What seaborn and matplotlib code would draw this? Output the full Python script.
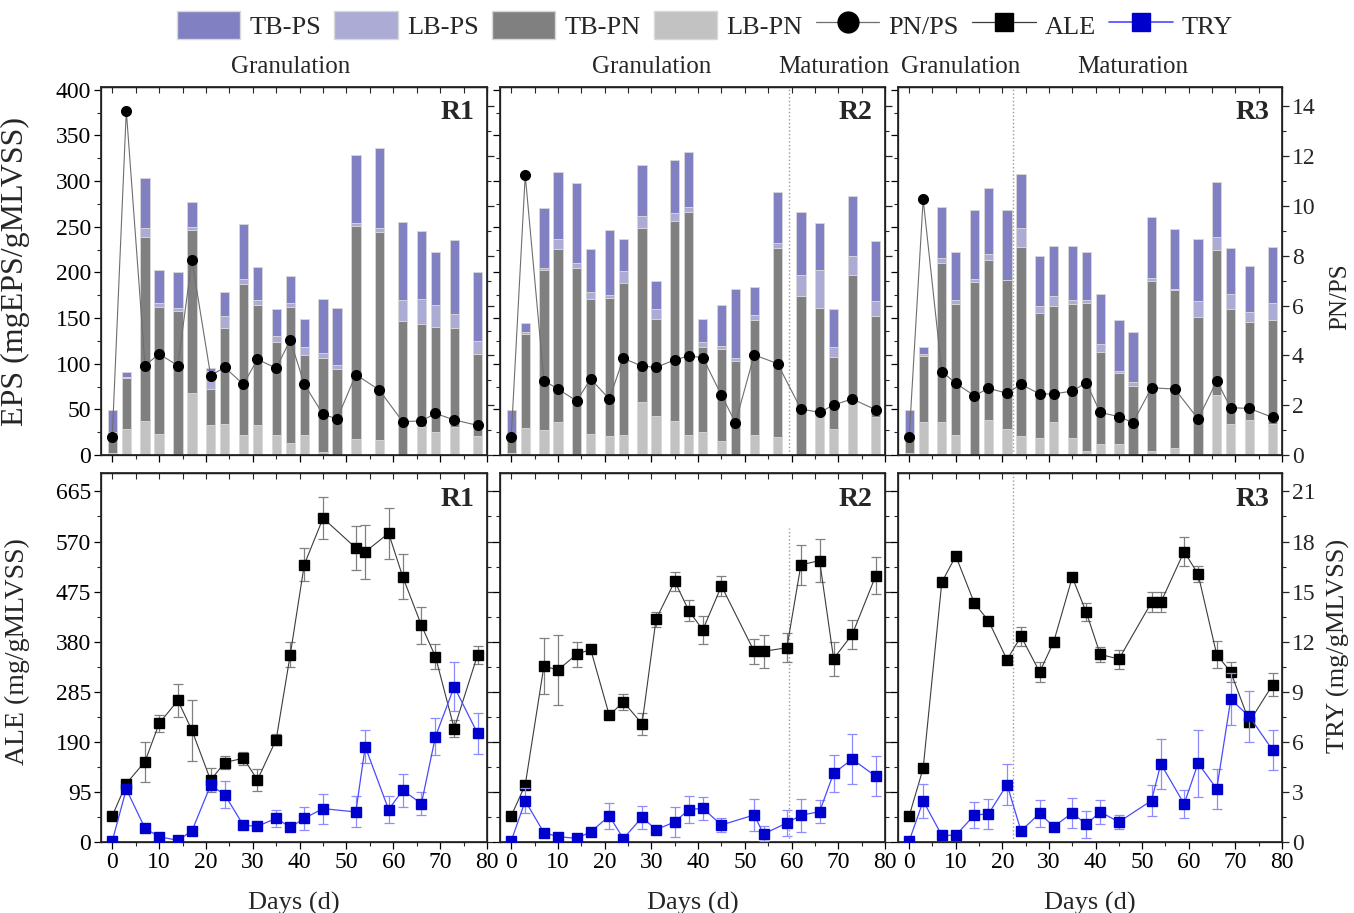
import numpy as np
import pandas as pd
import matplotlib
matplotlib.use("Agg")
import matplotlib.pyplot as plt
import seaborn as sns
from matplotlib.lines import Line2D
from matplotlib.patches import Patch
from matplotlib.ticker import MultipleLocator

# ---------------------------------------------------------------- data
eps_days = [0, 3, 7, 10, 14, 17, 21, 24, 28, 31, 35, 38, 41, 45, 48, 52, 57, 62, 66, 69, 73, 78]
enz_days = [0, 3, 7, 10, 14, 17, 21, 24, 28, 31, 35, 38, 41, 45, 52, 54, 59, 62, 66, 69, 73, 78]

# EPS fractions (mgEPS/gMLVSS)
r1_lb_pn = [2.6, 28.1, 37.3, 22.6, 0, 68.3, 32.9, 33.6, 21.9, 32.5, 21.6, 12.8, 21.9, 3.7, 0, 17.5, 16.4, 0, 31.0, 25.6, 31.0, 21.2]
r1_tb_pn = [23.0, 56.6, 200.9, 140.0, 157.8, 178.3, 39.4, 105.9, 165.5, 131.9, 102.6, 149.0, 87.7, 102.2, 94.6, 233.8, 227.6, 146.8, 112.2, 115.0, 107.8, 89.5]
r1_lb_ps = [0, 1.0, 10.2, 3.6, 2.9, 2.9, 20.1, 12.8, 5.5, 5.5, 6.2, 5.1, 8.4, 5.5, 4.0, 2.6, 5.1, 23.1, 28.1, 24.1, 15.7, 14.2]
r1_tb_ps = [23.7, 5.3, 55.2, 36.2, 40.2, 28.1, 2.9, 26.3, 59.9, 36.1, 29.2, 29.6, 30.7, 59.9, 62.9, 74.1, 87.3, 85.1, 74.5, 58.1, 81.1, 76.0]
r1_pn_ps = [0.71, 13.83, 3.59, 4.06, 3.59, 7.84, 3.19, 3.52, 2.84, 3.84, 3.49, 4.62, 2.84, 1.63, 1.45, 3.23, 2.61, 1.34, 1.37, 1.67, 1.41, 1.19]

r2_lb_pn = [1.8, 30.0, 27.4, 35.8, 0, 23.0, 21.2, 21.6, 58.4, 42.7, 37.3, 21.6, 25.2, 15.3, 0, 21.9, 20.1, 0, 45.7, 28.1, 58.4, 42.0]
r2_tb_pn = [21.9, 102.6, 175.3, 190.0, 205.3, 148.3, 150.9, 166.9, 190.7, 106.7, 219.5, 244.3, 93.5, 101.2, 103.0, 126.0, 207.1, 174.2, 115.8, 79.7, 138.9, 110.3]
r2_lb_ps = [0, 1.8, 2.6, 10.9, 4.7, 7.0, 3.2, 13.1, 12.1, 10.6, 8.0, 5.2, 5.5, 3.3, 3.7, 5.5, 5.5, 23.1, 41.2, 10.9, 20.1, 16.8]
r2_tb_ps = [25.6, 9.9, 65.0, 73.4, 87.4, 47.8, 71.3, 34.7, 56.6, 30.7, 57.8, 61.0, 24.8, 44.6, 75.2, 30.3, 55.2, 69.0, 51.9, 41.3, 66.1, 65.8]
r2_pn_ps = [0.71, 11.24, 2.99, 2.65, 2.17, 3.05, 2.25, 3.88, 3.57, 3.52, 3.82, 3.98, 3.91, 2.40, 1.30, 4.02, 3.67, 1.85, 1.71, 2.01, 2.25, 1.82]

r3_lb_pn = [1.8, 35.8, 35.8, 21.9, 0, 38.4, 28.9, 20.8, 19.0, 36.5, 19.0, 4.7, 11.7, 11.7, 0, 4.4, 7.3, 0, 65.8, 34.0, 38.4, 34.0]
r3_tb_pn = [21.9, 73.1, 175.0, 143.6, 190.0, 174.6, 162.9, 207.5, 136.3, 127.2, 146.5, 162.2, 100.8, 78.5, 76.0, 186.6, 173.5, 150.9, 158.9, 125.6, 107.7, 113.9]
r3_lb_ps = [0, 1.8, 4.7, 4.4, 2.9, 6.9, 0, 20.8, 8.0, 10.5, 4.4, 3.0, 8.8, 2.2, 4.4, 3.0, 0.8, 17.9, 13.8, 16.5, 10.2, 18.3]
r3_tb_ps = [25.6, 8.0, 56.6, 52.2, 75.6, 72.0, 76.7, 58.9, 54.1, 55.2, 59.5, 52.9, 55.1, 55.5, 54.0, 66.5, 66.1, 67.9, 60.3, 50.4, 51.2, 61.4]
r3_pn_ps = [0.71, 10.27, 3.35, 2.88, 2.38, 2.68, 2.48, 2.84, 2.45, 2.45, 2.57, 2.90, 1.71, 1.54, 1.30, 2.70, 2.65, 1.45, 2.97, 1.90, 1.87, 1.51]

# Enzyme activities: ALE (mg/gMLVSS) and TRY (mg/gMLVSS), mean and SD
r1_ale = [49.4, 110.8, 152.6, 224.8, 268.5, 212.2, 117.2, 150.7, 159.0, 117.8, 194.4, 355.3, 526.3, 614.3, 557.9, 550.3, 585.8, 503.5, 411.0, 351.5, 215.3, 355.3]
r1_ale_sd = [5, 5, 38, 16, 32, 58, 23, 12, 12, 21, 10, 24, 32, 40, 41, 51, 48, 43, 35, 24, 16, 17]
r1_try = [0.06, 3.16, 0.82, 0.32, 0.10, 0.66, 3.40, 2.84, 1.00, 0.94, 1.42, 0.88, 1.42, 2.00, 1.80, 5.72, 1.94, 3.10, 2.30, 6.32, 9.30, 6.50]
r1_try_sd = [0, 0.2, 0.1, 0.1, 0, 0.1, 0.3, 0.8, 0.1, 0.1, 0.5, 0.2, 0.7, 0.9, 0.93, 1.0, 0.8, 0.98, 0.68, 1.1, 1.48, 1.2]

r2_ale = [49.4, 108.3, 333.8, 326.2, 355.9, 365.4, 240.0, 266.0, 224.2, 422.4, 494.6, 438.9, 402.2, 485.7, 361.6, 361.6, 368.6, 525.6, 533.9, 347.7, 393.9, 504.8]
r2_ale_sd = [3, 5, 53, 66, 24, 5, 5, 15, 21, 14, 18, 20, 27, 19, 24, 31, 28, 38, 41, 32, 27, 35]
r2_try = [0.06, 2.46, 0.56, 0.32, 0.22, 0.60, 1.56, 0.20, 1.48, 0.74, 1.20, 1.94, 2.02, 1.02, 1.62, 0.48, 1.14, 1.60, 1.82, 4.12, 4.96, 3.94]
r2_try_sd = [0, 0.75, 0.1, 0.1, 0.1, 0.1, 0.8, 0.1, 0.7, 0.1, 0.9, 0.8, 0.7, 0.4, 0.94, 0.45, 0.78, 0.98, 0.68, 1.12, 1.5, 1.2]

r3_ale = [49.4, 140.0, 492.7, 542.7, 452.8, 419.9, 345.8, 390.1, 322.4, 379.4, 502.2, 435.7, 355.9, 347.0, 454.7, 454.7, 551.0, 507.9, 355.3, 322.4, 228.0, 298.3]
r3_ale_sd = [2, 3, 3, 3, 3, 3, 3, 18, 19, 10, 8, 17, 14, 18, 19, 19, 27, 15, 26, 19, 10, 22]
r3_try = [0.06, 2.46, 0.40, 0.40, 1.62, 1.68, 3.44, 0.66, 1.72, 0.92, 1.74, 1.06, 1.80, 1.20, 2.48, 4.68, 2.28, 4.72, 3.18, 8.54, 7.52, 5.50]
r3_try_sd = [0, 1.0, 0.1, 0.1, 0.8, 0.9, 1.22, 0.1, 0.82, 0.1, 0.9, 0.8, 0.74, 0.4, 0.92, 1.52, 0.82, 2.0, 1.18, 1.56, 1.5, 1.2]

reactor_names = ["R1", "R2", "R3"]
# day at which granulation gives way to maturation (None: whole run is granulation)
phase_switch = [None, 59.5, 22.3]
phase_labels = [[("Granulation", 38)], [("Granulation", 30), ("Maturation", 69)],
                [("Granulation", 11), ("Maturation", 48)]]

legend_labels = ["TB-PS", "LB-PS", "TB-PN", "LB-PN", "PN/PS", "ALE", "TRY"]

# ---------------------------------------------------------------- style
sns.set_theme(style="ticks")
plt.rcParams["font.family"] = ["Liberation Serif", "DejaVu Serif"]
plt.rcParams["mathtext.fontset"] = "stix"

C_TBPS = "#8080c2"
C_LBPS = "#ababd6"
C_TBPN = "#808080"
C_LBPN = "#c2c2c2"
C_TRY = "#0000cc"
C_TRY_LINE = "#4a4aff"
C_TRY_ERR = "#8c8cff"

TICK_FS = 17
LABEL_FS = 19

fig = plt.figure(figsize=(13.54, 9.13), dpi=100)
W, H = 1354.0, 913.0
lefts = [101, 500, 898]
widths = [386, 385, 384]
top_row = (87, 455)
bot_row = (473, 842)

eps_sets = [
    (r1_lb_pn, r1_tb_pn, r1_lb_ps, r1_tb_ps, r1_pn_ps),
    (r2_lb_pn, r2_tb_pn, r2_lb_ps, r2_tb_ps, r2_pn_ps),
    (r3_lb_pn, r3_tb_pn, r3_lb_ps, r3_tb_ps, r3_pn_ps),
]
enz_sets = [
    (r1_ale, r1_ale_sd, r1_try, r1_try_sd),
    (r2_ale, r2_ale_sd, r2_try, r2_try_sd),
    (r3_ale, r3_ale_sd, r3_try, r3_try_sd),
]


def make_axes(left, width, row):
    y0, y1 = row
    return fig.add_axes([left / W, 1 - y1 / H, width / W, (y1 - y0) / H])


def style_axes(ax, ymaj, ymin, show_xlabels):
    ax.set_xlim(-2.4, 80)
    ax.xaxis.set_major_locator(MultipleLocator(10))
    ax.xaxis.set_minor_locator(MultipleLocator(5))
    ax.yaxis.set_major_locator(MultipleLocator(ymaj))
    ax.yaxis.set_minor_locator(MultipleLocator(ymin))
    ax.tick_params(axis="both", which="major", direction="out", length=5, width=0.9,
                   labelsize=TICK_FS, colors="black", pad=2)
    ax.tick_params(axis="both", which="minor", direction="out", length=3, width=0.8)
    ax.tick_params(axis="x", labelbottom=show_xlabels)
    for s in ax.spines.values():
        s.set_color("black")
        s.set_linewidth(0.9)
    top = ax.secondary_xaxis("top")
    top.xaxis.set_major_locator(MultipleLocator(10))
    top.xaxis.set_minor_locator(MultipleLocator(5))
    top.tick_params(axis="x", which="both", direction="in", length=4, width=0.8, labeltop=False)
    top.spines["top"].set_linewidth(0.9)


for i in range(3):
    lb_pn, tb_pn, lb_ps, tb_ps, pnps = eps_sets[i]
    ale, ale_sd, tr, tr_sd = enz_sets[i]

    # ---------------- EPS panel
    ax = make_axes(lefts[i], widths[i], top_row)
    df = pd.DataFrame({"day": eps_days, "LB-PN": lb_pn, "TB-PN": tb_pn,
                       "LB-PS": lb_ps, "TB-PS": tb_ps, "PN/PS": pnps})
    bottom = np.zeros(len(df))
    for col, colr in [("LB-PN", C_LBPN), ("TB-PN", C_TBPN), ("LB-PS", C_LBPS), ("TB-PS", C_TBPS)]:
        ax.bar(df["day"], df[col], width=2.0, bottom=bottom, color=colr,
               edgecolor="#d8d8d8", linewidth=0.6, zorder=2)
        bottom = bottom + df[col].to_numpy()
    ax.set_ylim(0, 403)
    style_axes(ax, 50, 25, False)
    if i == 0:
        ax.set_ylabel("EPS (mgEPS/gMLVSS)", fontsize=23)
        ax.yaxis.set_label_coords(-0.183, 0.5)
    else:
        ax.tick_params(axis="y", labelleft=False)

    ax2 = ax.twinx()
    sns.lineplot(data=df, x="day", y="PN/PS", ax=ax2, color="#6e6e6e", linewidth=0.8,
                 marker="o", markersize=7.2, markerfacecolor="black",
                 markeredgecolor="black", zorder=4)
    ax2.set_ylim(0, 14.78)
    ax2.yaxis.set_major_locator(MultipleLocator(2))
    ax2.yaxis.set_minor_locator(MultipleLocator(1))
    ax2.tick_params(axis="y", which="major", direction="out", length=5, width=0.9,
                    labelsize=TICK_FS, pad=2)
    ax2.tick_params(axis="y", which="minor", direction="out", length=3, width=0.8)
    ax2.set_xlabel("")
    if i == 2:
        ax2.set_ylabel("PN/PS", fontsize=LABEL_FS - 1)
        ax2.yaxis.set_label_coords(1.122, 0.43)
    else:
        ax2.set_ylabel("")
        ax2.tick_params(axis="y", labelright=False)

    ax2.text(0.968, 0.93, reactor_names[i], transform=ax2.transAxes, ha="right",
             va="center", fontsize=20, fontweight="bold")
    for txt, d in phase_labels[i]:
        ax.text(d, 1.055, txt, transform=ax.get_xaxis_transform(), ha="center",
                va="center", fontsize=18)
    if phase_switch[i] is not None:
        ax.axvline(phase_switch[i], color="#9a9a9a", linestyle=":", linewidth=1.0, zorder=3)

    # ---------------- enzyme panel
    bx = make_axes(lefts[i], widths[i], bot_row)
    bx.errorbar(enz_days, ale, yerr=ale_sd, color="#3c3c3c", linewidth=0.8,
                marker="s", markersize=6.6, markerfacecolor="black", markeredgecolor="black",
                ecolor="#808080", elinewidth=0.9, capsize=3.5, capthick=0.9, zorder=3)
    bx.set_ylim(0, 700)
    style_axes(bx, 95, 47.5, True)
    bx.set_xlabel("Days (d)", fontsize=LABEL_FS, labelpad=14)
    if i == 0:
        bx.set_ylabel("ALE (mg/gMLVSS)", fontsize=LABEL_FS + 1)
        bx.yaxis.set_label_coords(-0.183, 0.515)
    else:
        bx.tick_params(axis="y", labelleft=False)

    bx2 = bx.twinx()
    bx2.errorbar(enz_days, tr, yerr=tr_sd, color=C_TRY_LINE, linewidth=0.9,
                 marker="s", markersize=6.6, markerfacecolor=C_TRY, markeredgecolor=C_TRY,
                 ecolor=C_TRY_ERR, elinewidth=0.9, capsize=3.5, capthick=0.9, zorder=3)
    bx2.set_ylim(0, 700 * 3 / 95)
    bx2.yaxis.set_major_locator(MultipleLocator(3))
    bx2.yaxis.set_minor_locator(MultipleLocator(1.5))
    bx2.tick_params(axis="y", which="major", direction="out", length=5, width=0.9,
                    labelsize=TICK_FS, pad=2)
    bx2.tick_params(axis="y", which="minor", direction="out", length=3, width=0.8)
    if i == 2:
        bx2.set_ylabel("TRY (mg/gMLVSS)", fontsize=LABEL_FS)
        bx2.yaxis.set_label_coords(1.118, 0.53)
    else:
        bx2.tick_params(axis="y", labelright=False)
    bx2.text(0.968, 0.927, reactor_names[i], transform=bx2.transAxes, ha="right",
             va="center", fontsize=20, fontweight="bold")
    if phase_switch[i] is not None:
        ymax = 0.85 if i == 1 else 1.0
        bx.axvline(phase_switch[i], ymax=ymax, color="#9a9a9a", linestyle=":",
                   linewidth=1.0, zorder=2)

# ---------------------------------------------------------------- legend
handles = [
    Patch(facecolor=C_TBPS, edgecolor="#d8d8d8"),
    Patch(facecolor=C_LBPS, edgecolor="#d8d8d8"),
    Patch(facecolor=C_TBPN, edgecolor="#d8d8d8"),
    Patch(facecolor=C_LBPN, edgecolor="#d8d8d8"),
    Line2D([], [], color="#6e6e6e", lw=0.9, marker="o", markersize=15,
           markerfacecolor="black", markeredgecolor="black"),
    Line2D([], [], color="#3c3c3c", lw=0.9, marker="s", markersize=13,
           markerfacecolor="black", markeredgecolor="black"),
    Line2D([], [], color=C_TRY_LINE, lw=1.2, marker="s", markersize=13,
           markerfacecolor=C_TRY, markeredgecolor=C_TRY),
]
fig.legend(handles, legend_labels, loc="center", bbox_to_anchor=(705 / W, 1 - 25 / H),
           ncol=7, frameon=False, fontsize=19, handlelength=2.4, handleheight=1.3,
           handletextpad=0.35, columnspacing=0.5, borderpad=0.1)

fig.savefig("out.png", dpi=100, facecolor="white")
